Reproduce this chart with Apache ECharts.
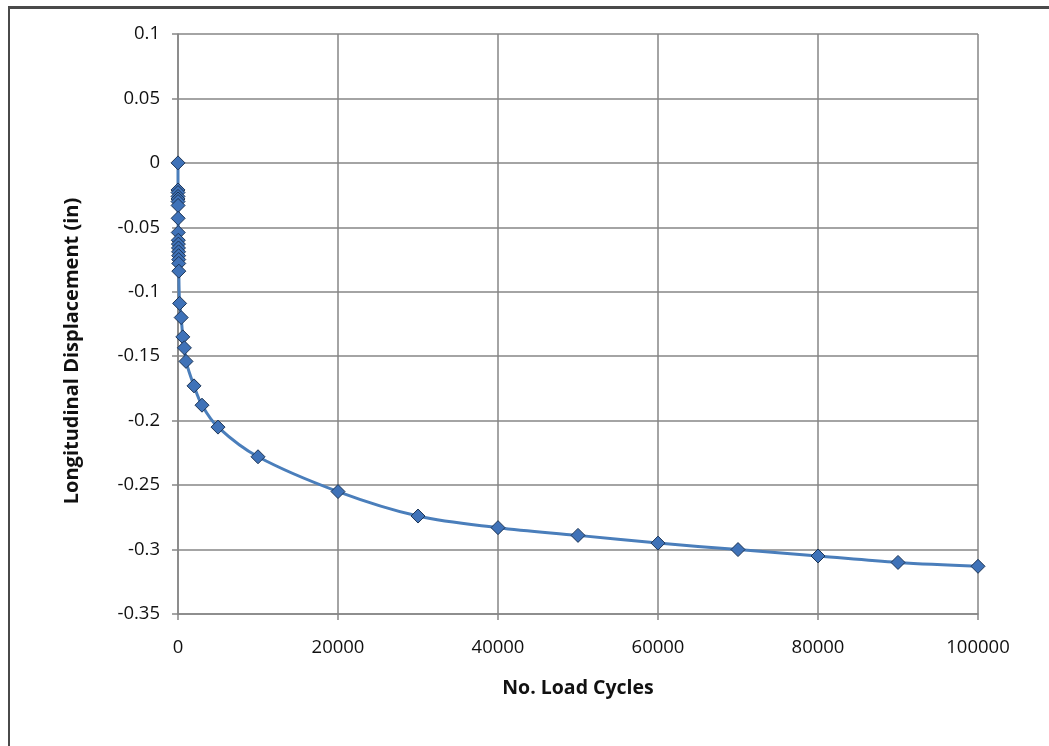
<!DOCTYPE html>
<html>
<head>
<meta charset="utf-8">
<script src="https://cdn.jsdelivr.net/npm/echarts@6/dist/echarts.min.js"></script>
<style>
html,body{margin:0;padding:0;background:#fff;}
#frame{position:absolute;left:8px;top:6px;width:1100px;height:800px;border-left:2px solid #4a4a4a;border-top:3px solid #4a4a4a;}
#chart{position:absolute;left:0;top:0;width:1049px;height:746px;}
</style>
</head>
<body>
<div id="frame"></div>
<div id="chart"></div>
<script>
const cycles = [0, 1, 2, 3, 4, 5, 10, 20, 30, 40, 50, 60, 70, 80, 90, 95, 100,
  200, 400, 600, 800, 1000, 2000, 3000, 5000, 10000,
  20000, 30000, 40000, 50000, 60000, 70000, 80000, 90000, 100000];
const displacement = [0, -0.021, -0.023, -0.026, -0.028, -0.030, -0.033, -0.043, -0.054,
  -0.060, -0.063, -0.066, -0.069, -0.072, -0.075, -0.078, -0.084,
  -0.109, -0.120, -0.135, -0.1435, -0.154, -0.173, -0.188, -0.205, -0.228,
  -0.255, -0.274, -0.283, -0.289, -0.295, -0.300, -0.305, -0.310, -0.313];
const xTicks = [0, 20000, 40000, 60000, 80000, 100000];
const yTicks = [0.1, 0.05, 0, -0.05, -0.1, -0.15, -0.2, -0.25, -0.3, -0.35];

const chart = echarts.init(document.getElementById('chart'), null, {renderer: 'canvas'});
const font = 'Open Sans, Liberation Sans, sans-serif';
chart.setOption({
  animation: false,
  backgroundColor: 'transparent',
  grid: {left: 178, right: 71, top: 34, bottom: 132},
  xAxis: {
    type: 'value', min: 0, max: 100000, interval: 20000,
    name: 'No. Load Cycles', nameLocation: 'middle', nameGap: 64,
    nameTextStyle: {fontFamily: font, fontWeight: 'bold', fontSize: 19.5, color: '#111'},
    axisLine: {show: true, onZero: false, lineStyle: {color: '#868686', width: 1.5}},
    axisTick: {show: true, length: 6, lineStyle: {color: '#868686', width: 1.5}},
    axisLabel: {fontFamily: font, fontSize: 18.5, color: '#111', margin: 24,
      formatter: v => xTicks.includes(v) ? String(v) : ''},
    splitLine: {show: true, lineStyle: {color: '#868686', width: 1.5}}
  },
  yAxis: {
    type: 'value', min: -0.35, max: 0.1, interval: 0.05,
    name: 'Longitudinal Displacement (in)', nameLocation: 'middle', nameGap: 96,
    nameTextStyle: {fontFamily: font, fontWeight: 'bold', fontSize: 20, color: '#111',
      padding: [0, 54, 0, 0]},
    axisLine: {show: true, lineStyle: {color: '#868686', width: 1.5}},
    axisTick: {show: true, length: 6, lineStyle: {color: '#868686', width: 1.5}},
    axisLabel: {fontFamily: font, fontSize: 18.5, color: '#111', margin: 18,
      formatter: v => { const r = Math.round(v * 100) / 100; const m = yTicks.find(t => Math.abs(t - r) < 1e-9); return m === undefined ? '' : String(m); }},
    splitLine: {show: true, lineStyle: {color: '#868686', width: 1.5}}
  },
  series: [{
    type: 'line',
    data: cycles.map((c, i) => [c, displacement[i]]),
    smooth: 0.35,
    symbol: 'diamond',
    symbolSize: 14,
    lineStyle: {color: '#4a7ebb', width: 3},
    itemStyle: {color: '#3f72b8', borderColor: '#1c3455', borderWidth: 1}
  }]
});
</script>
</body>
</html>
